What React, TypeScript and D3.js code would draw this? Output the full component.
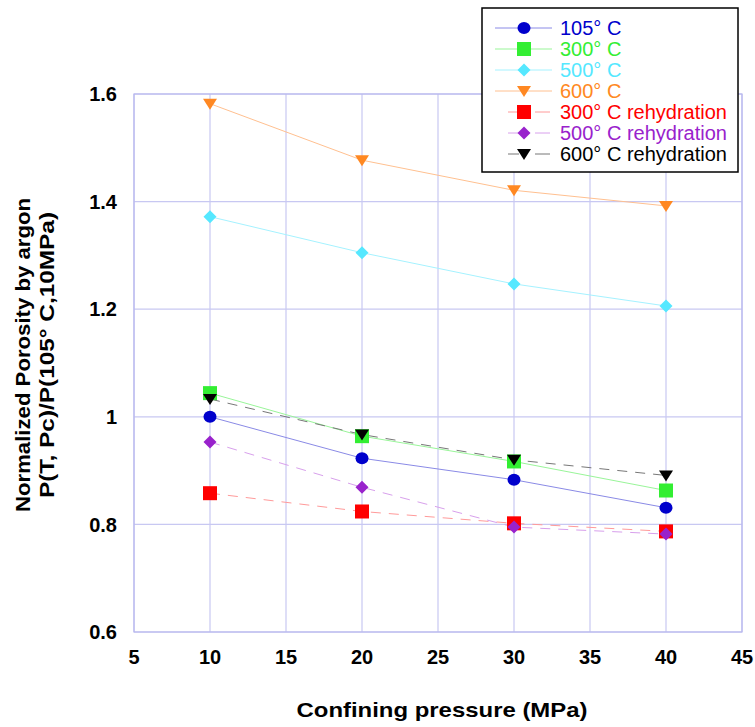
import React from "react";
import * as d3 from "d3";

const pressures = [10, 20, 30, 40];
const s105 = [1.0, 0.923, 0.883, 0.831];
const s300 = [1.044, 0.964, 0.917, 0.863];
const s500 = [1.372, 1.305, 1.247, 1.206];
const s600 = [1.582, 1.477, 1.421, 1.392];
const s300r = [0.858, 0.824, 0.802, 0.787];
const s500r = [0.953, 0.869, 0.795, 0.782];
const s600r = [1.033, 0.967, 0.92, 0.891];

const xTicks = [5, 10, 15, 20, 25, 30, 35, 40, 45];
const yTicks = [0.6, 0.8, 1.0, 1.2, 1.4, 1.6];
const yTickLabels = ["0.6", "0.8", "1", "1.2", "1.4", "1.6"];

type Series = {
  name: string;
  values: number[];
  marker: "circle" | "square" | "diamond" | "triangle";
  color: string;
  lineColor: string;
  dashed: boolean;
};

const series: Series[] = [
  { name: "105° C", values: s105, marker: "circle", color: "#0000cc", lineColor: "#8a8ae6", dashed: false },
  { name: "300° C", values: s300, marker: "square", color: "#33ee33", lineColor: "#99f599", dashed: false },
  { name: "500° C", values: s500, marker: "diamond", color: "#55e8ff", lineColor: "#a5f2ff", dashed: false },
  { name: "600° C", values: s600, marker: "triangle", color: "#ff8822", lineColor: "#ffc090", dashed: false },
  { name: "300° C rehydration", values: s300r, marker: "square", color: "#ff0000", lineColor: "#ff9a9a", dashed: true },
  { name: "500° C rehydration", values: s500r, marker: "diamond", color: "#9922cc", lineColor: "#d8a0ec", dashed: true },
  { name: "600° C rehydration", values: s600r, marker: "triangle", color: "#000000", lineColor: "#777777", dashed: true },
];

const left = 134, right = 742, top = 94, bottom = 632;
const x = d3.scaleLinear().domain([5, 45]).range([left, right]);
const y = d3.scaleLinear().domain([0.6, 1.6]).range([bottom, top]);

function Marker({ type, cx, cy, color }: { type: string; cx: number; cy: number; color: string }) {
  if (type === "circle") return <ellipse cx={cx} cy={cy} rx={6.5} ry={6} fill={color} />;
  if (type === "square") return <rect x={cx - 7} y={cy - 7} width={14} height={14} fill={color} />;
  if (type === "diamond")
    return <path d={`M${cx},${cy - 6.5}L${cx + 6.5},${cy}L${cx},${cy + 6.5}L${cx - 6.5},${cy}Z`} fill={color} />;
  return <path d={`M${cx - 7},${cy - 5}L${cx + 7},${cy - 5}L${cx},${cy + 6}Z`} fill={color} />;
}

export default function App() {
  const line = d3
    .line<number>()
    .x((_, i) => x(pressures[i]))
    .y((d) => y(d));
  const font = "Arial, 'Liberation Sans', sans-serif";
  return (
    <svg width={755} height={727} style={{ position: "absolute", left: 0, top: 0 }} fontFamily={font}>
      <rect width={755} height={727} fill="#fff" />
      {xTicks.map((t) => (
        <line key={"gx" + t} x1={x(t)} x2={x(t)} y1={top} y2={bottom} stroke="#c8c8f2" strokeWidth={1.2} />
      ))}
      {yTicks.map((t) => (
        <line key={"gy" + t} x1={left} x2={right} y1={y(t)} y2={y(t)} stroke="#c8c8f2" strokeWidth={1.2} />
      ))}
      <rect x={left} y={top} width={right - left} height={bottom - top} fill="none" stroke="#b8b8ee" strokeWidth={1.2} />
      {yTicks.map((t, i) => (
        <text key={"ty" + t} x={117} y={y(t)} dy="0.36em" textAnchor="end" fontWeight="bold" fontSize={20}>
          {yTickLabels[i]}
        </text>
      ))}
      {xTicks.map((t) => (
        <text key={"tx" + t} x={x(t)} y={664} textAnchor="middle" fontWeight="bold" fontSize={20}>
          {t}
        </text>
      ))}
      <text x={442} y={717} textAnchor="middle" fontWeight="bold" fontSize={21} textLength={291} lengthAdjust="spacingAndGlyphs">
        Confining pressure (MPa)
      </text>
      <g transform="translate(30,355) rotate(-90)">
        <text x={0} y={0} textAnchor="middle" fontWeight="bold" fontSize={20} textLength={314} lengthAdjust="spacingAndGlyphs">
          Normalized Porosity by argon
        </text>
        <text x={0} y={24} textAnchor="middle" fontWeight="bold" fontSize={20} textLength={286} lengthAdjust="spacingAndGlyphs">
          P(T, Pc)/P(105° C,10MPa)
        </text>
      </g>
      {series.map((s) => (
        <path
          key={"l" + s.name}
          d={line(s.values) || ""}
          fill="none"
          stroke={s.lineColor}
          strokeWidth={1}
          strokeDasharray={s.dashed ? "10,8" : undefined}
        />
      ))}
      {series.map((s) => (
        <g key={"m" + s.name}>
          {s.values.map((v, i) => (
            <Marker key={i} type={s.marker} cx={x(pressures[i])} cy={y(v)} color={s.color} />
          ))}
        </g>
      ))}
      <g>
        <rect x={482} y={8} width={256} height={164} fill="#fff" stroke="#000" strokeWidth={1.5} />
        {series.map((s, i) => {
          const ly = 28 + i * 21;
          return (
            <g key={"lg" + s.name}>
              {s.dashed ? (
                <>
                  <line x1={508} x2={519} y1={ly} y2={ly} stroke={s.lineColor} strokeWidth={1} />
                  <line x1={535} x2={550} y1={ly} y2={ly} stroke={s.lineColor} strokeWidth={1} />
                </>
              ) : (
                <line x1={495} x2={552} y1={ly} y2={ly} stroke={s.lineColor} strokeWidth={1} />
              )}
              <Marker type={s.marker} cx={524} cy={ly} color={s.color} />
              <text x={560} y={ly} dy="0.36em" fontSize={20} fill={s.color}>
                {s.name}
              </text>
            </g>
          );
        })}
      </g>
    </svg>
  );
}
